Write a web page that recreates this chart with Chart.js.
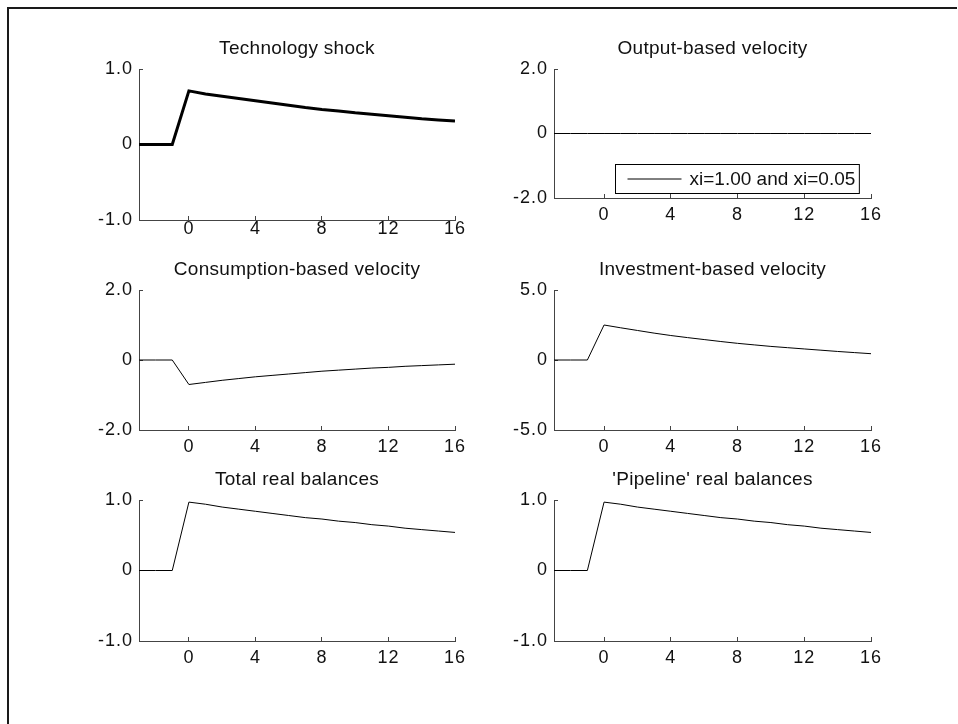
<!DOCTYPE html>
<html>
<head>
<meta charset="utf-8">
<title>Impulse responses to a technology shock</title>
<script src="https://cdn.jsdelivr.net/npm/chart.js@4.4.0/dist/chart.umd.min.js"></script>
<style>
  body { margin: 0; background: #fff; }
  #fig { position: relative; width: 958px; height: 724px; overflow: hidden; background: #fff; }
  #frame { position: absolute; left: 7px; top: 7px; right: 1px; bottom: -10px;
           border-left: 2px solid #1a1a1a; border-top: 2px solid #1a1a1a; }
  .panel { position: absolute; }
  .panel canvas { display: block; }
</style>
</head>
<body>
<div id="fig"><div id="frame"></div></div>
<script>
// quarters relative to the shock
const periods = [-3, -2, -1, 0, 1, 2, 3, 4, 5, 6, 7, 8, 9, 10, 11, 12, 13, 14, 15, 16];
const xTicks = [0, 4, 8, 12, 16];

const technology = [0, 0, 0, 0.71, 0.67, 0.64, 0.61, 0.58, 0.55, 0.52, 0.49, 0.465, 0.445, 0.42, 0.40, 0.38, 0.36, 0.34, 0.325, 0.31];
const outputVelocity = [0, 0, 0, 0, 0, 0, 0, 0, 0, 0, 0, 0, 0, 0, 0, 0, 0, 0, 0, 0];
const consumptionVelocity = [0, 0, 0, -0.70, -0.64, -0.58, -0.53, -0.48, -0.44, -0.40, -0.36, -0.32, -0.29, -0.26, -0.23, -0.21, -0.18, -0.16, -0.14, -0.12];
const investmentVelocity = [0, 0, 0, 2.50, 2.30, 2.11, 1.92, 1.75, 1.60, 1.46, 1.32, 1.19, 1.08, 0.97, 0.88, 0.79, 0.70, 0.61, 0.53, 0.45];
const totalBalances = [0, 0, 0, 0.97, 0.94, 0.90, 0.87, 0.84, 0.81, 0.78, 0.75, 0.73, 0.70, 0.68, 0.65, 0.63, 0.60, 0.58, 0.56, 0.54];
const pipelineBalances = [0, 0, 0, 0.97, 0.94, 0.90, 0.87, 0.84, 0.81, 0.78, 0.75, 0.73, 0.70, 0.68, 0.65, 0.63, 0.60, 0.58, 0.56, 0.54];

const titles = ['Technology shock', 'Output-based velocity', 'Consumption-based velocity',
                'Investment-based velocity', 'Total real balances', "'Pipeline' real balances"];
const legendLabel = 'xi=1.00 and xi=0.05';

const FONT = '"Liberation Sans", Arial, Helvetica, sans-serif';
const AXIS = '#444';
const YW = 60, PR = 24, TH = 30, XH = 34;

// plot area of each subplot: [left, top, right, bottom]
const panels = [
  { title: titles[0], values: technology, yTicks: [-1, 0, 1], width: 3, area: [139, 69, 455, 220], xPad: 2 },
  { title: titles[1], values: outputVelocity, yTicks: [-2, 0, 2], width: 1, area: [554, 69, 871, 198], xPad: 10, legend: true },
  { title: titles[2], values: consumptionVelocity, yTicks: [-2, 0, 2], width: 1, area: [139, 290, 455, 430], xPad: 10 },
  { title: titles[3], values: investmentVelocity, yTicks: [-5, 0, 5], width: 1, area: [554, 290, 871, 430], xPad: 10 },
  { title: titles[4], values: totalBalances, yTicks: [-1, 0, 1], width: 1, area: [139, 500, 455, 641], xPad: 10 },
  { title: titles[5], values: pipelineBalances, yTicks: [-1, 0, 1], width: 1, area: [554, 500, 871, 641], xPad: 10 }
];

// titles are drawn before the datasets, tick labels after them (ticks.z = 1),
// so each gets its own letter spacing
const textSpacing = {
  id: 'textSpacing',
  beforeDraw(chart) { chart.ctx.letterSpacing = '0.3px'; },
  afterDatasetsDraw(chart) { chart.ctx.letterSpacing = '1px'; },
  afterDraw(chart) { chart.ctx.letterSpacing = '0px'; }
};

// legend drawn as a framed box in the lower right of the plot area
const boxedLegend = {
  id: 'boxedLegend',
  afterDatasetsDraw(chart, args, opts) {
    if (!opts.show) return;
    const ds = chart.data.datasets[0];
    const ctx = chart.ctx;
    const { right, bottom } = chart.chartArea;
    ctx.save();
    ctx.letterSpacing = '0px';
    ctx.font = '19px ' + FONT;
    const tw = ctx.measureText(ds.label).width;
    const bw = 12 + 54 + 8 + tw + 4, bh = 29;
    const x0 = Math.round(right - 12 - bw) + 0.5, y0 = Math.round(bottom - 5 - bh) + 0.5;
    ctx.fillStyle = '#fff';
    ctx.fillRect(x0, y0, bw, bh);
    ctx.strokeStyle = '#000';
    ctx.lineWidth = 1;
    ctx.strokeRect(x0, y0, bw, bh);
    ctx.beginPath();
    ctx.moveTo(x0 + 12, y0 + bh / 2);
    ctx.lineTo(x0 + 66, y0 + bh / 2);
    ctx.strokeStyle = ds.borderColor;
    ctx.lineWidth = ds.borderWidth;
    ctx.stroke();
    ctx.fillStyle = '#111';
    ctx.textBaseline = 'middle';
    ctx.fillText(ds.label, x0 + 74, y0 + bh / 2 + 1);
    ctx.restore();
  }
};

function makePanel(p) {
  const [L, T, R, B] = p.area;
  const w = R - L + YW + PR;
  const h = B - T + TH + XH;
  const wrap = document.createElement('div');
  wrap.className = 'panel';
  wrap.style.left = (L - YW) + 'px';
  wrap.style.top = (T - TH) + 'px';
  const canvas = document.createElement('canvas');
  canvas.width = w;
  canvas.height = h;
  canvas.style.width = w + 'px';
  canvas.style.height = h + 'px';
  wrap.appendChild(canvas);
  document.getElementById('fig').appendChild(wrap);

  const tickFont = { family: FONT, size: 18 };

  new Chart(canvas, {
    type: 'line',
    data: {
      datasets: [{
        label: p.legend ? legendLabel : p.title,
        data: periods.map((x, i) => ({ x, y: p.values[i] })),
        borderColor: '#000',
        borderWidth: p.width,
        pointRadius: 0,
        tension: 0,
        fill: false,
        borderJoinStyle: 'miter'
      }]
    },
    options: {
      responsive: false,
      animation: false,
      events: [],
      layout: { padding: { left: 0, right: PR, top: 0, bottom: 0 } },
      plugins: {
        legend: { display: false },
        tooltip: { enabled: false },
        title: {
          display: true,
          text: p.title,
          fullSize: false,
          color: '#111',
          font: { family: FONT, size: 19, weight: 'normal', lineHeight: 1 },
          padding: { top: 0, bottom: 11 }
        },
        boxedLegend: { show: !!p.legend }
      },
      scales: {
        x: {
          type: 'linear',
          min: periods[0],
          max: periods[periods.length - 1],
          afterFit: s => { s.height = XH; },
          afterBuildTicks: s => { s.ticks = xTicks.map(v => ({ value: v })); },
          grid: { drawOnChartArea: false, tickLength: -4, color: AXIS },
          border: { color: AXIS, width: 1 },
          ticks: { z: 1, color: '#111', font: tickFont, padding: p.xPad, maxRotation: 0, autoSkip: false }
        },
        y: {
          min: p.yTicks[0],
          max: p.yTicks[p.yTicks.length - 1],
          afterFit: s => { s.width = YW; },
          afterBuildTicks: s => { s.ticks = p.yTicks.map(v => ({ value: v })); },
          grid: { drawOnChartArea: false, tickLength: -4, color: AXIS },
          border: { color: AXIS, width: 1 },
          ticks: {
            z: 1,
            color: '#111',
            font: tickFont,
            padding: 10,
            callback: v => v === 0 ? '0' : v.toFixed(1)
          }
        }
      }
    },
    plugins: [textSpacing, boxedLegend]
  });
}

panels.forEach(makePanel);
</script>
</body>
</html>
